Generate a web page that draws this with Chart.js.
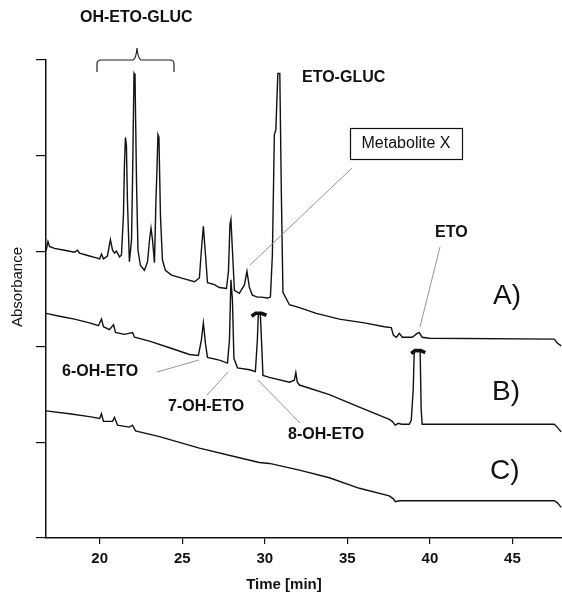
<!DOCTYPE html>
<html>
<head>
<meta charset="utf-8">
<script src="https://cdn.jsdelivr.net/npm/chart.js@4.4.1/dist/chart.umd.min.js"></script>
<style>
  html, body { margin: 0; padding: 0; background: #fff; }
</style>
</head>
<body>
<canvas id="chromChart" width="562" height="593"></canvas>
<script>
// retention times [min] and absorbance (arbitrary units)
const timeA = [16.75,16.87,16.96,17.26,17.87,18.48,18.66,18.78,19.38,19.81,20.0,20.11,20.23,20.47,20.65,20.78,20.9,21.02,21.2,21.32,21.44,21.5,21.56,21.62,21.68,21.8,21.93,21.99,22.08,22.14,22.23,22.32,22.47,22.71,22.9,23.02,23.11,23.2,23.32,23.41,23.47,23.53,23.59,23.68,23.8,23.98,24.35,25.13,25.74,26.04,26.16,26.28,26.41,26.53,26.95,27.25,27.68,27.8,27.89,27.95,28.04,28.16,28.46,28.77,28.92,29.07,29.25,29.55,29.8,30.16,30.34,30.46,30.58,30.67,30.79,30.91,31.0,31.1,31.49,32.1,33.12,34.52,36.03,37.24,37.66,37.79,37.97,38.15,38.33,38.93,39.23,39.35,39.53,39.96,47.53,47.71,47.95];
const absA  = [3.00,3.10,3.05,3.03,3.01,2.99,3.01,2.98,2.95,2.93,2.92,2.97,2.92,2.95,3.12,3.01,2.98,3.00,2.94,2.96,3.38,3.90,4.19,4.11,3.54,2.89,3.12,3.74,4.86,4.84,3.74,3.01,2.85,2.80,2.89,3.12,3.24,3.12,2.88,3.54,3.85,4.22,4.19,3.38,2.91,2.80,2.75,2.71,2.68,2.72,3.01,3.26,2.96,2.67,2.65,2.62,2.61,2.79,3.28,3.33,3.01,2.59,2.56,2.65,2.79,2.62,2.54,2.52,2.52,2.51,2.52,2.96,4.22,4.27,4.86,4.86,3.64,2.57,2.44,2.41,2.35,2.29,2.25,2.21,2.20,2.12,2.10,2.14,2.10,2.10,2.14,2.15,2.10,2.09,2.08,2.04,2.01];

const timeB = [16.75,17.57,18.48,19.38,19.93,20.11,20.23,20.59,20.84,20.96,21.5,21.99,22.11,23.02,24.23,25.44,25.98,26.16,26.28,26.41,26.53,27.25,27.74,27.86,27.95,28.04,28.13,28.35,29.08,29.43,29.55,29.61,29.73,29.8,29.89,30.28,31.49,31.79,31.88,31.97,32.1,33.91,35.73,37.54,37.72,37.9,38.09,38.27,38.75,38.87,38.99,39.05,39.41,39.47,39.53,47.53,47.71,47.95];
const absB  = [2.35,2.32,2.29,2.25,2.22,2.29,2.21,2.18,2.23,2.15,2.13,2.15,2.10,2.06,1.99,1.92,1.91,2.07,2.25,2.03,1.89,1.86,1.83,2.07,2.70,2.49,1.88,1.78,1.76,1.74,2.07,2.34,2.34,2.07,1.70,1.68,1.63,1.65,1.73,1.63,1.60,1.50,1.37,1.24,1.22,1.18,1.20,1.19,1.19,1.23,1.55,1.95,1.95,1.35,1.19,1.19,1.16,1.11];

const timeC = [16.75,18.17,19.38,20.0,20.11,20.23,20.78,20.9,21.08,21.8,21.99,22.17,23.62,26.04,28.46,29.67,30.28,32.1,33.91,35.73,37.54,37.79,37.91,38.15,47.53,47.71,47.95];
const absC  = [1.33,1.30,1.27,1.25,1.30,1.22,1.22,1.26,1.18,1.16,1.18,1.12,1.06,0.94,0.84,0.79,0.78,0.71,0.63,0.52,0.44,0.41,0.38,0.39,0.39,0.37,0.32];

// off-scale peaks in trace B are marked with a cap
const cap8Time = [29.2, 29.45, 29.8, 30.1];
const cap8Abs  = [2.32, 2.35, 2.35, 2.33];
const capEtoTime = [38.87, 39.1, 39.45, 39.72];
const capEtoAbs  = [1.93, 1.96, 1.96, 1.94];

const xTicks = [20, 25, 30, 35, 40, 45];
const yTicks = [0, 1, 2, 3, 4, 5];

const pts = (t, a) => t.map((v, i) => ({ x: v, y: a[i] }));

const trace = (label, data, width) => ({
  label, data,
  borderColor: "#111",
  borderWidth: width,
  pointRadius: 0,
  tension: 0,
  fill: false
});

// labels, bracket and leader lines
const annotations = {
  id: "annotations",
  afterDraw(chart) {
    const ctx = chart.ctx;
    ctx.save();
    ctx.fillStyle = "#111";
    ctx.textBaseline = "middle";

    const text = (s, x, y, font, align) => {
      ctx.font = font;
      ctx.textAlign = align || "left";
      ctx.fillText(s, x, y);
    };
    const line = (x1, y1, x2, y2) => {
      ctx.beginPath();
      ctx.moveTo(x1, y1);
      ctx.lineTo(x2, y2);
      ctx.stroke();
    };

    const bold16 = "bold 16px 'Liberation Sans', Arial, sans-serif";
    text("OH-ETO-GLUC", 80, 18, bold16);
    text("ETO-GLUC", 302, 78, bold16);
    text("ETO", 435, 233, bold16);
    text("6-OH-ETO", 62, 372, bold16);
    text("7-OH-ETO", 168, 407, bold16);
    text("8-OH-ETO", 288, 435, bold16);

    const big = "28px 'Liberation Sans', Arial, sans-serif";
    text("A)", 493, 296, big);
    text("B)", 492, 392, big);
    text("C)", 490, 471, big);

    text("Metabolite X", 406, 144, "16px 'Liberation Sans', Arial, sans-serif", "center");
    ctx.strokeStyle = "#111";
    ctx.lineWidth = 1.2;
    ctx.strokeRect(350.5, 128.5, 112, 31);

    text("Time [min]", 284, 585, "bold 15px 'Liberation Sans', Arial, sans-serif", "center");
    ctx.save();
    ctx.translate(18, 287);
    ctx.rotate(-Math.PI / 2);
    text("Absorbance", 0, 0, "15px 'Liberation Sans', Arial, sans-serif", "center");
    ctx.restore();

    // bracket over the glucuronide group
    ctx.strokeStyle = "#222";
    ctx.lineWidth = 1.2;
    ctx.beginPath();
    ctx.moveTo(97, 72);
    ctx.lineTo(97, 64);
    ctx.quadraticCurveTo(97, 60, 101, 60);
    ctx.lineTo(133, 60);
    ctx.quadraticCurveTo(136, 59, 137, 48);
    ctx.quadraticCurveTo(138, 59, 141, 60);
    ctx.lineTo(170, 60);
    ctx.quadraticCurveTo(174, 60, 174, 64);
    ctx.lineTo(174, 72);
    ctx.stroke();

    // leader lines
    ctx.strokeStyle = "#888";
    ctx.lineWidth = 0.9;
    line(352, 168, 250, 265);
    line(440, 247, 420, 327);
    line(157, 372, 199, 360);
    line(207, 395, 228, 372);
    line(300, 423, 258, 380);
    ctx.restore();
  }
};

new Chart(document.getElementById("chromChart"), {
  type: "line",
  data: {
    datasets: [
      trace("A", pts(timeA, absA), 1.4),
      trace("B", pts(timeB, absB), 1.4),
      trace("C", pts(timeC, absC), 1.4),
      trace("cap 8-OH-ETO", pts(cap8Time, cap8Abs), 3.5),
      trace("cap ETO", pts(capEtoTime, capEtoAbs), 3.5)
    ]
  },
  options: {
    responsive: false,
    animation: false,
    layout: { padding: { top: 60, right: 0, bottom: 0, left: 0 } },
    plugins: {
      legend: { display: false },
      tooltip: { enabled: false }
    },
    scales: {
      x: {
        type: "linear",
        min: 16.75,
        max: 48,
        afterBuildTicks: s => { s.ticks = xTicks.map(v => ({ value: v })); },
        afterFit: s => { s.height = 55; },
        grid: { drawOnChartArea: false, tickLength: 6, color: "#111", lineWidth: 1.2 },
        border: { color: "#111", width: 1.5 },
        ticks: {
          padding: 6,
          maxRotation: 0,
          color: "#111",
          font: { family: "'Liberation Sans', Arial, sans-serif", size: 15, weight: "bold" }
        }
      },
      y: {
        type: "linear",
        min: 0,
        max: 5,
        afterBuildTicks: s => { s.ticks = yTicks.map(v => ({ value: v })); },
        afterFit: s => { s.width = 46; },
        grid: { drawOnChartArea: false, tickLength: 10, color: "#111", lineWidth: 1.2 },
        border: { color: "#111", width: 1.5 },
        ticks: { display: false }
      }
    }
  },
  plugins: [annotations]
});
</script>
</body>
</html>
